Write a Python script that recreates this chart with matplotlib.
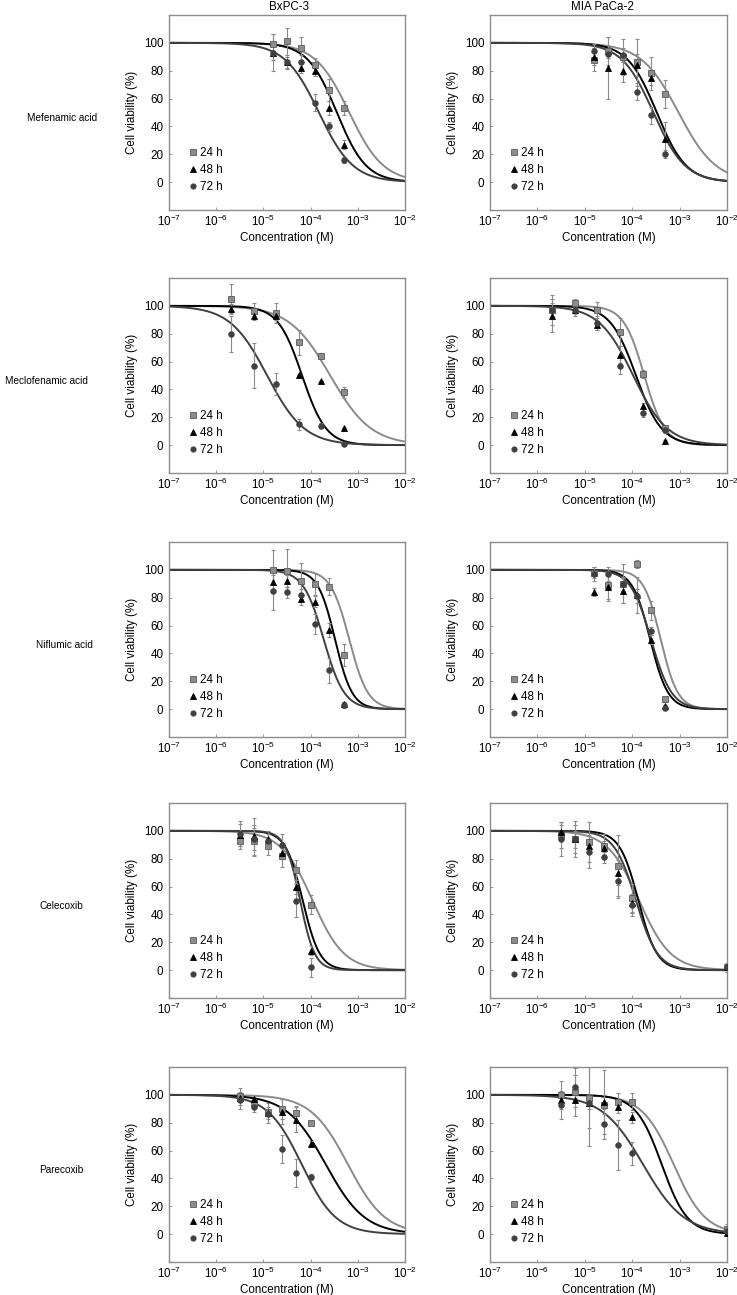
import numpy as np
import matplotlib
matplotlib.use("Agg")
import matplotlib.pyplot as plt
from matplotlib.lines import Line2D

plt.rcParams['font.family'] = ['Liberation Sans', 'DejaVu Sans']
plt.rcParams['mathtext.fontset'] = 'custom'
plt.rcParams['mathtext.rm'] = 'Liberation Sans'
plt.rcParams['mathtext.it'] = 'Liberation Sans:italic'
plt.rcParams['mathtext.bf'] = 'Liberation Sans:bold'

# ---------------- data ----------------
cell_lines = ["BxPC-3", "MIA PaCa-2"]
drugs = ["Mefenamic acid", "Meclofenamic acid", "Niflumic acid", "Celecoxib", "Parecoxib"]
times = ["24 h", "48 h", "72 h"]

# Mefenamic acid
conc_mef = [1.5625e-5, 3.125e-5, 6.25e-5, 1.25e-4, 2.5e-4, 5e-4]
mef_bx_24 = [99, 101, 96, 84, 66, 53]
mef_bx_48 = [93, 86, 82, 80, 53, 27]
mef_bx_72 = [93, 86, 86, 57, 40, 16]
mef_bx_24_err = [7, 10, 8, 5, 8, 5]
mef_bx_48_err = [5, 4, 4, 4, 5, 3]
mef_bx_72_err = [13, 5, 5, 6, 3, 2]
mef_mia_24 = [88, 94, 90, 86, 78, 63]
mef_mia_48 = [90, 82, 80, 84, 75, 31]
mef_mia_72 = [94, 92, 91, 65, 48, 20]
mef_mia_24_err = [8, 10, 13, 17, 12, 10]
mef_mia_48_err = [6, 22, 8, 8, 5, 12]
mef_mia_72_err = [5, 3, 5, 6, 6, 3]

# Meclofenamic acid
conc_mec = [2.06e-6, 6.17e-6, 1.85e-5, 5.56e-5, 1.67e-4, 5e-4]
mec_bx_24 = [105, 96, 95, 74, 64, 38]
mec_bx_48 = [98, 93, 93, 50, 46, 12]
mec_bx_72 = [80, 57, 44, 15, 14, 1]
mec_bx_24_err = [11, 6, 7, 9, 2, 4]
mec_bx_48_err = [3, 2, 3, 0, 0, 0]
mec_bx_72_err = [13, 16, 8, 4, 2, 1]
mec_mia_24 = [97, 102, 97, 81, 51, 12]
mec_mia_48 = [93, 97, 86, 65, 28, 3]
mec_mia_72 = [97, 97, 88, 57, 23, 11]
mec_mia_24_err = [11, 3, 6, 10, 3, 2]
mec_mia_48_err = [12, 3, 3, 6, 2, 1]
mec_mia_72_err = [5, 4, 5, 6, 3, 2]

# Niflumic acid
conc_nif = [1.5625e-5, 3.125e-5, 6.25e-5, 1.25e-4, 2.5e-4, 5e-4]
nif_bx_24 = [100, 99, 92, 90, 88, 39]
nif_bx_48 = [91, 92, 79, 77, 57, 4]
nif_bx_72 = [85, 84, 82, 61, 28, 3]
nif_bx_24_err = [14, 16, 13, 8, 6, 8]
nif_bx_48_err = [5, 4, 4, 4, 5, 1]
nif_bx_72_err = [14, 4, 4, 7, 9, 2]
nif_mia_24 = [98, 89, 90, 104, 71, 7]
nif_mia_48 = [84, 88, 85, 82, 50, 2]
nif_mia_72 = [97, 97, 90, 81, 56, 1]
nif_mia_24_err = [4, 10, 14, 3, 7, 2]
nif_mia_48_err = [3, 10, 9, 13, 3, 1]
nif_mia_72_err = [5, 5, 5, 5, 3, 1]

# Celecoxib
conc_cel_bx = [3.125e-6, 6.25e-6, 1.25e-5, 2.5e-5, 5e-5, 1e-4]
cel_bx_24 = [93, 93, 89, 82, 72, 47]
cel_bx_48 = [97, 96, 94, 84, 60, 14]
cel_bx_72 = [98, 94, 93, 90, 50, 2]
cel_bx_24_err = [6, 11, 6, 8, 7, 7]
cel_bx_48_err = [8, 13, 6, 4, 5, 3]
cel_bx_72_err = [9, 8, 5, 8, 12, 7]
conc_cel_mia = [3.125e-6, 6.25e-6, 1.25e-5, 2.5e-5, 5e-5, 1e-4, 1e-2]
cel_mia_24 = [97, 94, 92, 89, 75, 52, 2]
cel_mia_48 = [99, 94, 89, 88, 70, 48, 2]
cel_mia_72 = [94, 94, 85, 81, 64, 47, 2]
cel_mia_24_err = [9, 13, 14, 9, 22, 10, 3]
cel_mia_48_err = [5, 6, 5, 5, 9, 7, 2]
cel_mia_72_err = [12, 10, 12, 4, 12, 8, 2]

# Parecoxib
conc_par_bx = [3.125e-6, 6.25e-6, 1.25e-5, 2.5e-5, 5e-5, 1e-4]
par_bx_24 = [99, 94, 88, 90, 87, 80]
par_bx_48 = [98, 97, 87, 88, 82, 65]
par_bx_72 = [96, 91, 86, 61, 44, 41]
par_bx_24_err = [6, 3, 3, 7, 5, 1]
par_bx_48_err = [3, 3, 7, 9, 9, 2]
par_bx_72_err = [6, 3, 3, 10, 10, 2]
conc_par_mia = [3.125e-6, 6.25e-6, 1.25e-5, 2.5e-5, 5e-5, 1e-4, 1e-2]
par_mia_24 = [100, 102, 98, 93, 95, 95, 4]
par_mia_48 = [96, 96, 94, 95, 91, 84, 1]
par_mia_72 = [93, 106, 94, 79, 64, 58, 2]
par_mia_24_err = [10, 17, 22, 25, 6, 6, 3]
par_mia_48_err = [4, 5, 4, 5, 4, 4, 1]
par_mia_72_err = [10, 8, 31, 7, 18, 8, 2]

# fitted curve parameters (IC50 in M, Hill slope) for 24/48/72 h
ic50_mef_bx = [6.6e-4, 3.6e-4, 1.5e-4]; hill_mef_bx = [1.2, 1.4, 1.2]
ic50_mef_mia = [9.5e-4, 3.3e-4, 2.8e-4]; hill_mef_mia = [1.1, 1.4, 1.3]
ic50_mec_bx = [2.6e-4, 6.6e-5, 1.2e-5]; hill_mec_bx = [1.0, 1.7, 1.1]
ic50_mec_mia = [1.8e-4, 1.2e-4, 1.05e-4]; hill_mec_mia = [2.0, 1.6, 1.2]
ic50_nif_bx = [6.6e-4, 3.3e-4, 1.9e-4]; hill_nif_bx = [2.2, 2.4, 2.0]
ic50_nif_mia = [4.0e-4, 2.4e-4, 2.5e-4]; hill_nif_mia = [2.4, 2.3, 2.0]
ic50_cel_bx = [1.1e-4, 6.8e-5, 6.0e-5]; hill_cel_bx = [1.3, 2.4, 2.8]
ic50_cel_mia = [1.4e-4, 1.35e-4, 1.2e-4]; hill_cel_mia = [1.3, 2.2, 1.9]
ic50_par_bx = [6.2e-4, 2.1e-4, 6.5e-5]; hill_par_bx = [1.1, 1.05, 1.2]
ic50_par_mia = [7.5e-4, 4.2e-4, 1.7e-4]; hill_par_mia = [1.3, 1.6, 1.0]

xticks = [1e-7, 1e-6, 1e-5, 1e-4, 1e-3, 1e-2]
yticks = [0, 20, 40, 60, 80, 100]

panels = [
    [(conc_mef, [mef_bx_24, mef_bx_48, mef_bx_72], [mef_bx_24_err, mef_bx_48_err, mef_bx_72_err], ic50_mef_bx, hill_mef_bx),
     (conc_mef, [mef_mia_24, mef_mia_48, mef_mia_72], [mef_mia_24_err, mef_mia_48_err, mef_mia_72_err], ic50_mef_mia, hill_mef_mia)],
    [(conc_mec, [mec_bx_24, mec_bx_48, mec_bx_72], [mec_bx_24_err, mec_bx_48_err, mec_bx_72_err], ic50_mec_bx, hill_mec_bx),
     (conc_mec, [mec_mia_24, mec_mia_48, mec_mia_72], [mec_mia_24_err, mec_mia_48_err, mec_mia_72_err], ic50_mec_mia, hill_mec_mia)],
    [(conc_nif, [nif_bx_24, nif_bx_48, nif_bx_72], [nif_bx_24_err, nif_bx_48_err, nif_bx_72_err], ic50_nif_bx, hill_nif_bx),
     (conc_nif, [nif_mia_24, nif_mia_48, nif_mia_72], [nif_mia_24_err, nif_mia_48_err, nif_mia_72_err], ic50_nif_mia, hill_nif_mia)],
    [(conc_cel_bx, [cel_bx_24, cel_bx_48, cel_bx_72], [cel_bx_24_err, cel_bx_48_err, cel_bx_72_err], ic50_cel_bx, hill_cel_bx),
     (conc_cel_mia, [cel_mia_24, cel_mia_48, cel_mia_72], [cel_mia_24_err, cel_mia_48_err, cel_mia_72_err], ic50_cel_mia, hill_cel_mia)],
    [(conc_par_bx, [par_bx_24, par_bx_48, par_bx_72], [par_bx_24_err, par_bx_48_err, par_bx_72_err], ic50_par_bx, hill_par_bx),
     (conc_par_mia, [par_mia_24, par_mia_48, par_mia_72], [par_mia_24_err, par_mia_48_err, par_mia_72_err], ic50_par_mia, hill_par_mia)],
]

# ---------------- styles ----------------
line_colors = ['#8a8a8a', '#000000', '#404040']
marker_face = ['#8c8c8c', '#000000', '#404040']
marker_edge = ['#5a5a5a', '#000000', '#404040']
markers = ['s', '^', 'o']
msizes = [3.8, 4.2, 4.0]
err_color = '#8a8a8a'
spine_color = '#8c8c8c'
FS = 8.4
FS_ROW = 7.2

W, H = 737, 1295
fig = plt.figure(figsize=(W / 100, H / 100), dpi=100)

col_x0 = [169, 490]
col_w = [236, 237]
row_top = [15, 278, 542, 803, 1067]
row_h = 195
row_label_x = [62, 46, 64, 61, 61]
col_title_x = [289, 602]

xs = np.logspace(-7, -2, 400)

for r in range(5):
    for c in range(2):
        conc, vals, errs, ic50s, hills = panels[r][c]
        ax = fig.add_axes([col_x0[c] / W, 1 - (row_top[r] + row_h) / H, col_w[c] / W, row_h / H])
        ax.set_xscale('log')
        ax.set_xlim(1e-7, 1e-2)
        ax.set_ylim(-20, 120)
        for k in range(3):
            ys = 100.0 / (1.0 + (xs / ic50s[k]) ** hills[k])
            ax.plot(xs, ys, color=line_colors[k], lw=1.4, zorder=2)
        for k in range(3):
            ax.errorbar(conc, vals[k], yerr=errs[k], fmt='none', ecolor=err_color,
                        elinewidth=0.8, capsize=1.6, capthick=0.8, zorder=3)
        for k in range(3):
            ax.plot(conc, vals[k], linestyle='none', marker=markers[k], ms=msizes[k],
                    mfc=marker_face[k], mec=marker_edge[k], mew=0.6, zorder=4)
        ax.set_xticks(xticks)
        ax.xaxis.set_minor_locator(matplotlib.ticker.NullLocator())
        ax.set_yticks(yticks)
        ax.tick_params(direction='in', length=2.5, width=0.6, color=spine_color,
                       labelsize=FS, labelcolor='#000000', pad=4)
        ax.tick_params(axis='x', pad=3)
        for s in ax.spines.values():
            s.set_color(spine_color)
            s.set_linewidth(1.0)
        ax.set_xlabel("Concentration (M)", fontsize=FS, labelpad=2)
        ax.set_ylabel("Cell viability (%)", fontsize=FS, labelpad=4)
        handles = [Line2D([], [], linestyle='none', marker=markers[k], ms=msizes[k] * 0.95,
                          mfc=marker_face[k], mec=marker_edge[k], mew=0.6) for k in range(3)]
        ax.legend(handles, times, loc='lower left', bbox_to_anchor=(0.085, 0.085),
                  frameon=False, fontsize=FS, handlelength=0.7, handletextpad=0.25,
                  labelspacing=0.45, borderpad=0, borderaxespad=0)
    fig.text(row_label_x[r] / W, 1 - (row_top[r] + 103) / H, drugs[r], fontsize=FS_ROW,
             ha='center', va='center')

for c in range(2):
    fig.text(col_title_x[c] / W, 1 - 7 / H, cell_lines[c], fontsize=FS,
             ha='center', va='center')

fig.savefig("out.png", dpi=100)
